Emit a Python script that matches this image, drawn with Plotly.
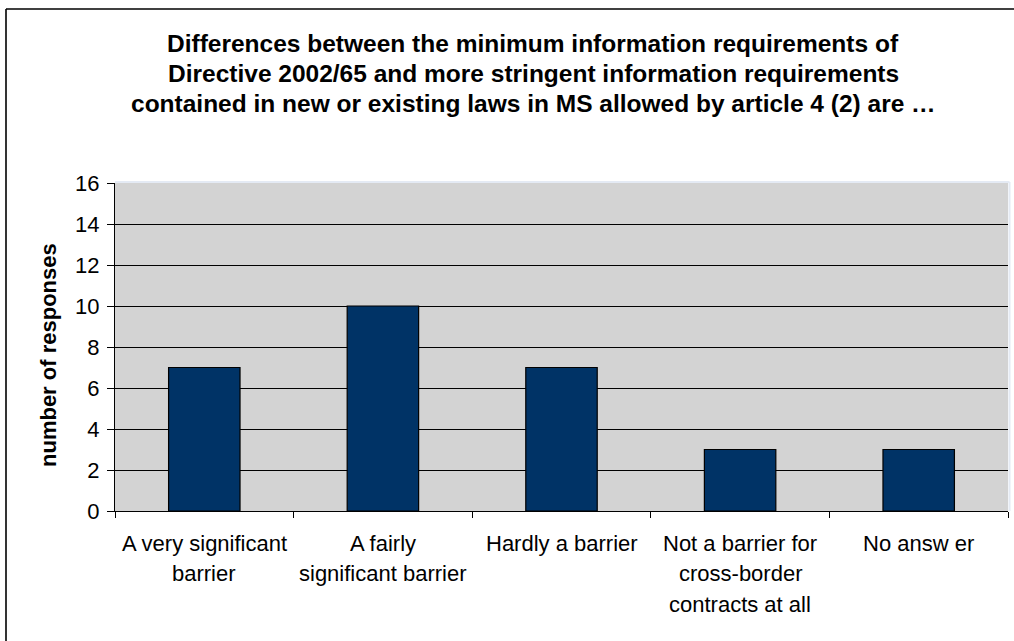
import plotly.graph_objects as go

# Survey data
categories = [
    "A very significant<br>barrier",
    "A fairly<br>significant barrier",
    "Hardly a barrier",
    "Not a barrier for<br>cross-border<br>contracts at all",
    "No answ er",
]
responses = [7, 10, 7, 3, 3]
y_ticks = [0, 2, 4, 6, 8, 10, 12, 14, 16]
title_lines = [
    "Differences between the minimum information requirements of",
    "Directive 2002/65 and more stringent information requirements",
    "contained in new or existing laws in MS allowed by article 4 (2) are …",
]
y_title = "number of responses"

W, H = 1014, 641
L, R, T, B = 115, 6, 183, 130
pw, ph = W - L - R, H - T - B

def px_x(x):
    return (x - L) / pw

def px_y(y):
    return (H - B - y) / ph

FONT = "Liberation Sans, Arial, sans-serif"
xs = list(range(len(categories)))

fig = go.Figure()
fig.add_trace(go.Bar(
    x=xs, y=responses, width=0.4,
    marker=dict(color="#003366", line=dict(color="#000000", width=1.2)),
    hoverinfo="skip",
))

annotations = []
# Category labels, one annotation per line for wide line spacing
for i, cat in enumerate(categories):
    for j, line in enumerate(cat.split("<br>")):
        annotations.append(dict(
            x=xs[i], xref="x", y=0, yref="paper",
            text=line, showarrow=False, xanchor="center", yanchor="middle",
            yshift=-32 - 30.5 * j,
            font=dict(family=FONT, size=22, color="#000000"),
        ))
# Title lines
for j, line in enumerate(title_lines):
    annotations.append(dict(
        x=px_x(533), xref="paper", y=px_y(43 + 30.5 * j), yref="paper",
        text="<b>" + line + "</b>", showarrow=False,
        xanchor="center", yanchor="middle",
        font=dict(family=FONT, size=24.5, color="#000000"),
    ))
# Y axis title
annotations.append(dict(
    x=px_x(48), xref="paper", y=px_y(355), yref="paper",
    text="<b>" + y_title + "</b>", showarrow=False, textangle=-90,
    xanchor="center", yanchor="middle",
    font=dict(family=FONT, size=22, color="#000000"),
))

shapes = [
    # outer chart frame (top and left edges)
    dict(type="line", xref="paper", yref="paper",
         x0=px_x(6), x1=px_x(1020), y0=px_y(9), y1=px_y(9),
         line=dict(color="#000000", width=1.6)),
    dict(type="line", xref="paper", yref="paper",
         x0=px_x(6), x1=px_x(6), y0=px_y(9), y1=px_y(650),
         line=dict(color="#000000", width=1.6)),
    # faint edge along the top and right of the plot area
    dict(type="line", xref="paper", yref="paper",
         x0=0, x1=px_x(1009.5), y0=px_y(182), y1=px_y(182),
         line=dict(color="#E4EAF4", width=2)),
    dict(type="line", xref="paper", yref="paper",
         x0=px_x(1009.5), x1=px_x(1009.5), y0=0, y1=px_y(182),
         line=dict(color="#E4EAF4", width=2)),
]

fig.update_layout(
    width=W, height=H,
    margin=dict(l=L, r=R, t=T, b=B, pad=0),
    paper_bgcolor="#FFFFFF",
    plot_bgcolor="#D3D3D3",
    showlegend=False,
    bargap=0.6,
    annotations=annotations,
    shapes=shapes,
    font=dict(family=FONT, size=22, color="#000000"),
    xaxis=dict(
        range=[-0.5, len(categories) - 0.5],
        tickmode="array",
        tickvals=[i - 0.5 for i in range(len(categories) + 1)],
        ticktext=[""] * (len(categories) + 1),
        ticks="outside", ticklen=6, tickcolor="#000000", tickwidth=1,
        showgrid=False, zeroline=False,
        showline=True, linecolor="#000000", linewidth=1.2,
        fixedrange=True,
    ),
    yaxis=dict(
        range=[0, 16],
        tickmode="array", tickvals=y_ticks,
        ticks="outside", ticklen=7, tickcolor="#000000", tickwidth=1,
        tickfont=dict(family=FONT, size=22, color="#000000"),
        ticklabelstandoff=3,
        showgrid=True, gridcolor="#000000", gridwidth=1,
        zeroline=False,
        showline=True, linecolor="#000000", linewidth=1.2,
        fixedrange=True,
    ),
)

fig.write_html("out.html", config={"displayModeBar": False})
